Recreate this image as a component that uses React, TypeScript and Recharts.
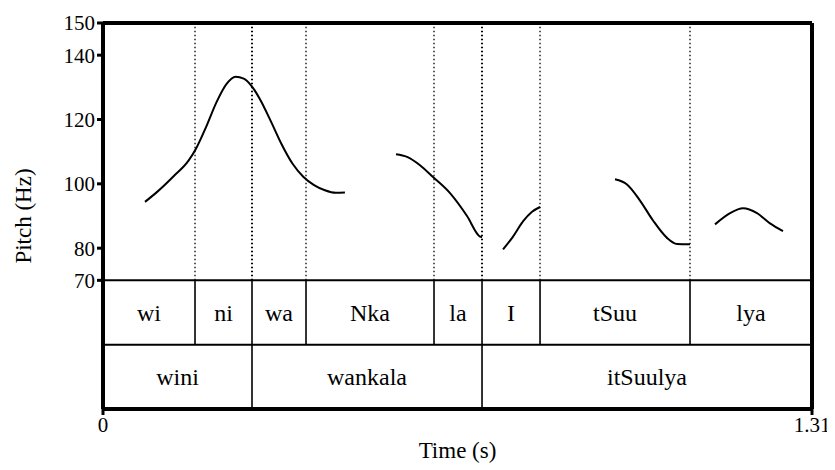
import React from "react";
import { ComposedChart, Line, XAxis, YAxis, ReferenceLine, ReferenceArea } from "recharts";

const FONT = '"Liberation Serif", "Times New Roman", serif';

// pitch track, [time (s), pitch (Hz)]
const segWini: [number, number][] = [
  [0.0776, 94.4], [0.10, 97.5], [0.13, 102.3], [0.158, 107.2], [0.172, 111],
  [0.19, 117.5], [0.21, 125.5], [0.228, 131], [0.245, 133.3], [0.26, 132.7],
  [0.275, 130.3], [0.29, 126.3], [0.31, 119.5], [0.33, 112.3], [0.35, 106.3],
  [0.37, 102.2], [0.39, 99.6], [0.41, 98], [0.43, 97.2], [0.447, 97.3],
];
const segLa: [number, number][] = [
  [0.5414, 109.2], [0.5617, 108.4], [0.5857, 105.8], [0.6098, 102.1], [0.6412, 97.1],
  [0.6726, 90], [0.6966, 83.6], [0.7003, 83.4],
];
const segI: [number, number][] = [
  [0.7391, 79.6], [0.7576, 83.6], [0.776, 88.3], [0.7927, 91.3], [0.8075, 92.8],
];
const segTSuu: [number, number][] = [
  [0.946, 101.4], [0.9682, 99.8], [0.9922, 94.8], [1.0163, 88.6], [1.0421, 83.2],
  [1.0606, 81.3], [1.0846, 81.2],
];
const segLya: [number, number][] = [
  [1.1308, 87.4], [1.1586, 90.9], [1.1826, 92.4], [1.2084, 90.9], [1.2324, 87.7], [1.2564, 85.3],
];
const segments = [segWini, segLa, segI, segTSuu, segLya];

const syllables = ["wi", "ni", "wa", "Nka", "la", "I", "tSuu", "lya"];
const syllableBounds = [0, 0.170, 0.2753, 0.3751, 0.6116, 0.7003, 0.8075, 1.0846, 1.31];
const words = ["wini", "wankala", "itSuulya"];
const wordBounds = [0, 0.2753, 0.7003, 1.31];

const pitchTicks = [70, 80, 100, 120, 140, 150];
const timeTicks = [0, 1.31];

// tier rows live below 70 Hz on the same y scale
const TIER_TOP = 70;
const TIER_MID = 50;
const TIER_BOTTOM = 30;
const T_MAX = 1.31;

const tickStyle = { fill: "#000", fontSize: 21, fontFamily: FONT };
const labelStyle = { fill: "#000", fontSize: 23, fontFamily: FONT };
const tierStyle = { fill: "#000", fontSize: 24, fontFamily: FONT };

export default function App() {
  const inner = syllableBounds.slice(1, -1);
  const innerWords = wordBounds.slice(1, -1);
  return (
    <div style={{ width: 827, height: 462, fontFamily: FONT }}>
      <style>{`.recharts-surface text { font-family: "Liberation Serif", "Times New Roman", serif !important; }`}</style>
      <ComposedChart
        width={827}
        height={462}
        margin={{ top: 15, right: 23, left: 0, bottom: 8 }}
      >
        <XAxis
          dataKey="t"
          type="number"
          domain={[0, T_MAX]}
          ticks={timeTicks}
          allowDataOverflow
          height={53}
          axisLine={{ stroke: "#000", strokeWidth: 4 }}
          tickLine={{ stroke: "#000", strokeWidth: 3 }}
          tickSize={6}
          tick={tickStyle}
          label={{ value: "Time (s)", position: "center", dy: 14, ...labelStyle }}
        />
        <YAxis
          type="number"
          domain={[TIER_BOTTOM, 150]}
          ticks={pitchTicks}
          allowDataOverflow
          width={95}
          axisLine={{ stroke: "#000", strokeWidth: 4 }}
          tickLine={{ stroke: "#000", strokeWidth: 3 }}
          tickSize={6}
          tick={tickStyle}
          label={{ value: "Pitch (Hz)", position: "center", angle: -90, dx: -33, ...labelStyle }}
        />

        {inner.map((b) => (
          <ReferenceLine
            key={"dot" + b}
            segment={[{ x: b, y: TIER_TOP }, { x: b, y: 150 }]}
            stroke="#000"
            strokeWidth={innerWords.includes(b) ? 2 : 1.3}
            strokeDasharray="1.5 2.5"
          />
        ))}
        {inner.map((b) => (
          <ReferenceLine
            key={"syl" + b}
            segment={[{ x: b, y: TIER_MID }, { x: b, y: TIER_TOP }]}
            stroke="#000"
            strokeWidth={1.6}
          />
        ))}
        {innerWords.map((b) => (
          <ReferenceLine
            key={"word" + b}
            segment={[{ x: b, y: TIER_BOTTOM }, { x: b, y: TIER_MID }]}
            stroke="#000"
            strokeWidth={1.6}
          />
        ))}
        {syllables.map((s, i) => (
          <ReferenceArea
            key={"sa" + i}
            x1={syllableBounds[i]}
            x2={syllableBounds[i + 1]}
            y1={TIER_MID}
            y2={TIER_TOP}
            fill="none"
            strokeWidth={0}
            label={{ value: s, position: "center", ...tierStyle }}
          />
        ))}
        {words.map((w, i) => (
          <ReferenceArea
            key={"wa" + i}
            x1={wordBounds[i]}
            x2={wordBounds[i + 1]}
            y1={TIER_BOTTOM}
            y2={TIER_MID}
            fill="none"
            strokeWidth={0}
            label={{ value: w, position: "center", ...tierStyle }}
          />
        ))}
        <ReferenceLine y={TIER_TOP} stroke="#000" strokeWidth={2} />
        <ReferenceLine y={TIER_MID} stroke="#000" strokeWidth={2} />
        <ReferenceLine y={150} stroke="#000" strokeWidth={4} />
        <ReferenceLine x={T_MAX} stroke="#000" strokeWidth={4} />

        {segments.map((seg, i) => (
          <Line
            key={"seg" + i}
            data={seg.map(([t, hz]) => ({ t, hz }))}
            dataKey="hz"
            type="monotone"
            stroke="#000"
            strokeWidth={2}
            dot={false}
            activeDot={false}
            isAnimationActive={false}
          />
        ))}
      </ComposedChart>
    </div>
  );
}
